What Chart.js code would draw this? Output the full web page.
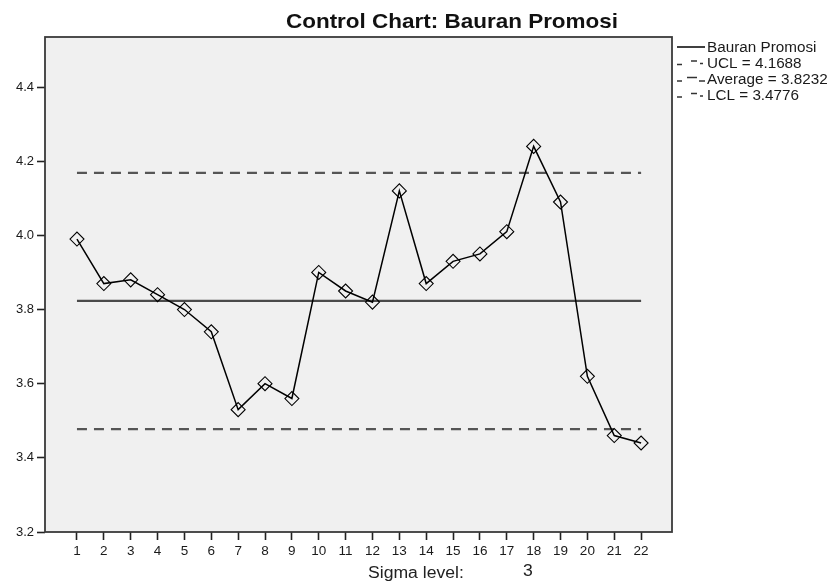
<!DOCTYPE html>
<html>
<head>
<meta charset="utf-8">
<script src="https://cdn.jsdelivr.net/npm/chart.js@4"></script>
<style>
html,body{margin:0;padding:0;background:#fff;}
#wrap{width:833px;height:583px;position:relative;}
</style>
</head>
<body>
<div id="wrap"><canvas id="c" width="833" height="583"></canvas></div>
<script>
// ---- data ----
const samples = [1,2,3,4,5,6,7,8,9,10,11,12,13,14,15,16,17,18,19,20,21,22];
const values  = [3.99,3.87,3.88,3.84,3.80,3.74,3.53,3.60,3.56,3.90,3.85,3.82,4.12,3.87,3.93,3.95,4.01,4.24,4.09,3.62,3.46,3.44];
const UCL = 4.1688;
const AVG = 3.8232;
const LCL = 3.4776;
const yTicks = [3.2,3.4,3.6,3.8,4.0,4.2,4.4];
const titleText = "Control Chart: Bauran Promosi";
const seriesName = "Bauran Promosi";
const sigmaLevel = 3;

const FONT = "'Liberation Sans', Arial, sans-serif";
const first = samples[0], last = samples[samples.length-1];

function txt(ctx, s, x, y, align, sx){
  ctx.save();
  ctx.translate(x, y);
  ctx.scale(sx, 1);
  ctx.textAlign = align;
  ctx.fillText(s, 0, 0);
  ctx.restore();
}
function seg(ctx, x1, x2, y){
  ctx.beginPath(); ctx.moveTo(x1, y); ctx.lineTo(x2, y); ctx.stroke();
}

const framePlugin = {
  id:'frame',
  beforeDraw(chart){
    const {ctx, chartArea:a} = chart;
    ctx.save();
    ctx.fillStyle = '#f0f0f0';
    ctx.fillRect(a.left, a.top, a.right-a.left, a.bottom-a.top);
    ctx.restore();
  },
  afterDraw(chart){
    const {ctx, chartArea:a} = chart;
    ctx.save();
    ctx.strokeStyle = '#3a3a3a';
    ctx.lineWidth = 1.8;
    ctx.strokeRect(a.left, a.top, a.right-a.left, a.bottom-a.top);
    // title
    ctx.fillStyle = '#111';
    ctx.font = "bold 21px " + FONT;
    ctx.textBaseline = 'middle';
    txt(ctx, titleText, 452, 22, 'center', 1.07);
    // legend
    ctx.font = "14px " + FONT;
    const ys = [47, 63, 79.5, 95.5];
    chart.data.datasets.forEach((d,i)=>{
      const y = ys[i];
      ctx.lineWidth = 1.5;
      if (i === 0){
        ctx.strokeStyle = '#000';
        seg(ctx, 677, 705, y);
      } else if (i === 2){
        ctx.strokeStyle = '#333';
        seg(ctx, 677, 682, y+1.5);
        seg(ctx, 687, 697, y-2);
        seg(ctx, 699, 705, y+1.5);
      } else {
        ctx.strokeStyle = '#333';
        seg(ctx, 677, 682, y+1.5);
        seg(ctx, 691, 697, y-2);
        seg(ctx, 700, 703, y+0.5);
      }
      ctx.fillStyle = '#1a1a1a';
      txt(ctx, d.label, 707, y+1, 'left', 1.09);
    });
    // sigma level
    ctx.font = "16px " + FONT;
    ctx.fillStyle = '#222';
    txt(ctx, "Sigma level:", 368, 574, 'left', 1.1);
    txt(ctx, String(sigmaLevel), 528, 572, 'center', 1.1);
    ctx.restore();
  }
};

const hline = v => [{x:first,y:v},{x:last,y:v}];

new Chart(document.getElementById('c'), {
  type:'line',
  data:{
    datasets:[
      {label:seriesName, data: samples.map((s,i)=>({x:s,y:values[i]})),
       borderColor:'#000', borderWidth:1.5, pointStyle:'rectRot', pointRadius:7,
       pointBorderColor:'#000', pointBorderWidth:1.1, pointBackgroundColor:'rgba(0,0,0,0)', order:0, tension:0},
      {label:'UCL = ' + UCL.toFixed(4), data:hline(UCL), borderColor:'#555', borderWidth:2.2,
       borderDash:[10,7], pointRadius:0, order:2},
      {label:'Average = ' + AVG.toFixed(4), data:hline(AVG), borderColor:'#4a4a4a', borderWidth:2.2,
       pointRadius:0, order:2},
      {label:'LCL = ' + LCL.toFixed(4), data:hline(LCL), borderColor:'#555', borderWidth:2.2,
       borderDash:[10,7], pointRadius:0, order:2}
    ]
  },
  options:{
    responsive:false, animation:false, devicePixelRatio:1,
    layout:{padding:{left:0,right:161,top:37,bottom:0}},
    plugins:{legend:{display:false}, title:{display:false}, tooltip:{enabled:false}},
    scales:{
      x:{type:'linear', min:-0.19, max:23.15,
         afterBuildTicks(s){ s.ticks = samples.map(v=>({value:v})); },
         afterFit(s){ s.height = 51; },
         grid:{drawOnChartArea:false, drawTicks:true, tickLength:8, tickColor:'#222', tickWidth:1.6},
         border:{display:false},
         ticks:{color:'#1a1a1a', font:{family:FONT, size:13.5}, padding:3, maxRotation:0, autoSkip:false,
                callback:v=>String(v)}},
      y:{type:'linear', min:3.2, max:4.535,
         afterBuildTicks(s){ s.ticks = yTicks.map(v=>({value:v})); },
         afterFit(s){ s.width = 45; },
         grid:{drawOnChartArea:false, drawTicks:true, tickLength:8, tickColor:'#222', tickWidth:1.6},
         border:{display:false},
         ticks:{color:'#1a1a1a', font:{family:FONT, size:13}, padding:3, callback:v=>Number(v).toFixed(1)}}
    }
  },
  plugins:[framePlugin]
});
</script>
</body>
</html>
